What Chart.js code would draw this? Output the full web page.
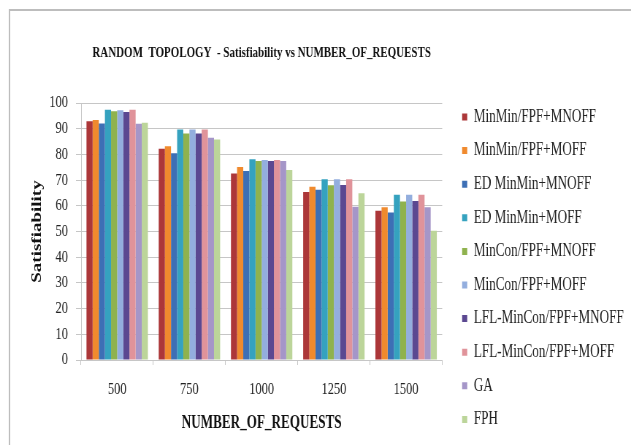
<!DOCTYPE html>
<html>
<head>
<meta charset="utf-8">
<script src="https://cdn.jsdelivr.net/npm/chart.js@4/dist/chart.umd.min.js"></script>
<style>
  html, body { margin: 0; padding: 0; background: #fff; overflow: hidden; }
  /* the chart is laid out on a wider canvas and shown condensed horizontally */
  #chart { display: block; width: 631px !important; height: 445px !important; }
</style>
</head>
<body>
<canvas id="chart" width="864" height="445" style="width:631px;height:445px"></canvas>
<script>
// Number of requests on the x axis
const categories = ['500', '750', '1000', '1250', '1500'];

// Satisfiability (%) per algorithm
const minMinFpfMnoff    = [92.9, 82.2, 72.6, 65.4, 58.1];
const minMinFpfMoff     = [93.4, 83.2, 75.1, 67.4, 59.4];
const edMinMinMnoff     = [92.0, 80.4, 73.5, 66.2, 57.4];
const edMinMinMoff      = [97.4, 89.7, 78.1, 70.3, 64.3];
const minConFpfMnoff    = [96.8, 88.1, 77.4, 68.0, 61.7];
const minConFpfMoff     = [97.2, 89.7, 77.8, 70.3, 64.3];
const lflMinConFpfMnoff = [96.5, 88.1, 77.4, 68.1, 61.9];
const lflMinConFpfMoff  = [97.4, 89.7, 77.8, 70.3, 64.3];
const ga                = [91.9, 86.5, 77.4, 59.6, 59.4];
const fph               = [92.3, 85.8, 73.9, 64.9, 50.3];

const yTicks = [0, 10, 20, 30, 40, 50, 60, 70, 80, 90, 100];

const series = [
  { label: 'MinMin/FPF+MNOFF',     data: minMinFpfMnoff,    color: '#AC3739' },
  { label: 'MinMin/FPF+MOFF',      data: minMinFpfMoff,     color: '#F08A2E' },
  { label: 'ED MinMin+MNOFF',      data: edMinMinMnoff,     color: '#3D6FB5' },
  { label: 'ED MinMin+MOFF',       data: edMinMinMoff,      color: '#35A2BF' },
  { label: 'MinCon/FPF+MNOFF',     data: minConFpfMnoff,    color: '#8FB24E' },
  { label: 'MinCon/FPF+MOFF',      data: minConFpfMoff,     color: '#93AEDE' },
  { label: 'LFL-MinCon/FPF+MNOFF', data: lflMinConFpfMnoff, color: '#5B4891' },
  { label: 'LFL-MinCon/FPF+MOFF',  data: lflMinConFpfMoff,  color: '#E0939A' },
  { label: 'GA',                   data: ga,                color: '#A596C8' },
  { label: 'FPH',                  data: fph,               color: '#BCD59A' }
];

const SERIF = "'Liberation Serif', 'Times New Roman', serif";
Chart.defaults.font.family = SERIF;
Chart.defaults.color = '#222';

const PLOT_LEFT = 111;
const PLOT_BOTTOM = 360;
const PLOT_RIGHT = 605.5;
const GRID = '#c6c6c6';

// white page and the thin frame around the chart
const framePlugin = {
  id: 'frame',
  beforeDraw(chart) {
    const ctx = chart.ctx;
    ctx.save();
    ctx.fillStyle = '#fff';
    ctx.fillRect(0, 0, chart.width, chart.height);
    ctx.strokeStyle = '#bdbdbd';
    ctx.lineWidth = 2;
    ctx.strokeRect(13, 10, chart.width + 20, chart.height + 20);
    ctx.restore();
  }
};

new Chart(document.getElementById('chart'), {
  type: 'bar',
  data: {
    labels: categories,
    datasets: series.map(s => ({
      label: s.label,
      data: s.data,
      backgroundColor: s.color,
      borderWidth: 0,
      categoryPercentage: 0.85,
      barPercentage: 1.0
    }))
  },
  plugins: [framePlugin],
  options: {
    responsive: false,
    animation: false,
    layout: { padding: { left: 0, right: 0, top: 0, bottom: 0 } },
    plugins: {
      title: {
        display: true,
        fullSize: false,
        text: 'RANDOM  TOPOLOGY  - Satisfiability vs NUMBER_OF_REQUESTS',
        color: '#111',
        font: { family: SERIF, size: 15, weight: 'bold' },
        padding: { top: 44, bottom: 41 }
      },
      legend: {
        position: 'right',
        align: 'start',
        maxWidth: 400,
        title: {
          display: true,
          text: ' ',
          font: { size: 1 },
          padding: { top: 91.2, bottom: 0 }
        },
        labels: {
          font: { family: SERIF, size: 18 },
          color: '#222',
          boxWidth: 7,
          boxHeight: 7,
          padding: 15.6
        }
      },
      tooltip: { enabled: false }
    },
    scales: {
      x: {
        offset: true,
        grid: {
          offset: true,
          drawOnChartArea: false,
          drawTicks: true,
          tickLength: 5,
          color: GRID
        },
        border: { display: true, color: GRID, width: 1 },
        ticks: {
          color: '#222',
          font: { family: SERIF, size: 17 },
          padding: 14
        },
        title: {
          display: true,
          text: 'NUMBER_OF_REQUESTS',
          color: '#111',
          font: { family: SERIF, size: 18, weight: 'bold' },
          padding: { top: 4, bottom: 11 }
        },
        afterFit(scale) { scale.height = 445 - PLOT_BOTTOM; }
      },
      y: {
        min: 0,
        max: 100,
        afterBuildTicks(scale) { scale.ticks = yTicks.map(v => ({ value: v })); },
        grid: {
          color: GRID,
          lineWidth: 1,
          drawTicks: true,
          tickLength: 7
        },
        border: { display: true, color: GRID, width: 1 },
        ticks: {
          color: '#222',
          font: { family: SERIF, size: 17 },
          padding: 11
        },
        title: {
          display: true,
          text: 'Satisfiability',
          color: '#111',
          font: { family: SERIF, size: 19, weight: 'bold' },
          padding: { top: 40, bottom: 4 }
        },
        afterFit(scale) { scale.width = PLOT_LEFT; }
      },
      // empty right-hand axis that keeps a gap between the plot and the legend
      gap: {
        type: 'linear',
        position: 'right',
        display: true,
        grid: { display: false },
        border: { display: false },
        ticks: { display: false },
        afterFit(scale) {
          const legendWidth = scale.chart.legend ? scale.chart.legend.width : 0;
          scale.width = Math.max(0, scale.chart.width - legendWidth - PLOT_RIGHT);
        }
      }
    }
  }
});
</script>
</body>
</html>
